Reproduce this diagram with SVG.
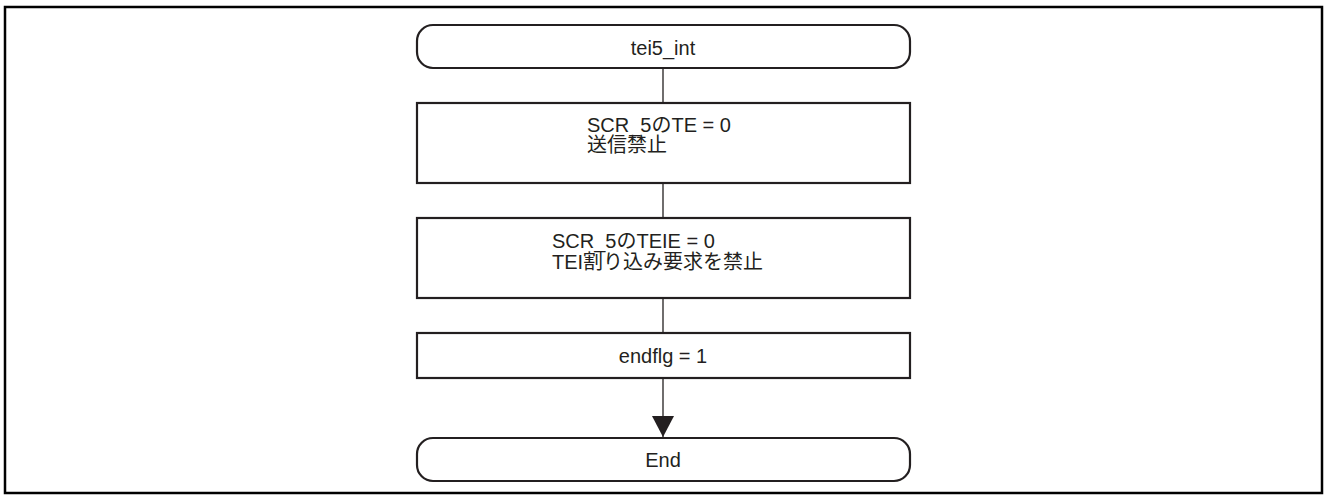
<svg xmlns="http://www.w3.org/2000/svg" width="1324" height="496" viewBox="0 0 1324 496">
<style>
.frame{fill:none;stroke:#000;stroke-width:2.5}
.box{fill:#fff;stroke:#231f20;stroke-width:2.2}
.line{fill:none;stroke:#231f20;stroke-width:1.3}
.t{font-family:"Liberation Sans","Noto Sans CJK JP",Arial,sans-serif;font-size:20px;fill:#231f20}
.c{text-anchor:middle}
</style>
<defs>
<marker id="arr" markerWidth="21" markerHeight="22" refX="21" refY="11" orient="auto" markerUnits="userSpaceOnUse" viewBox="0 0 21 22">
<path d="M0,0 L21,11 L0,22 Z" fill="#231f20"/>
</marker>
</defs>
<rect class="frame" x="5" y="7" width="1317" height="486"/>
<g id="connectors">
<line class="line" x1="663" y1="68" x2="663" y2="103"/>
<line class="line" x1="663" y1="183" x2="663" y2="218"/>
<line class="line" x1="663" y1="298" x2="663" y2="333"/>
<line class="line" x1="663" y1="378" x2="663" y2="437" marker-end="url(#arr)"/>
</g>
<g id="start">
<rect class="box" x="417" y="25" width="493" height="43" rx="16" ry="16"/>
<text class="t c" x="663" y="55">tei5_int</text>
</g>
<g id="step1">
<rect class="box" x="417" y="103" width="493" height="80"/>
<text class="t" x="587" y="132">SCR_5のTE = 0</text>
<text class="t" x="587" y="152">送信禁止</text>
</g>
<g id="step2">
<rect class="box" x="417" y="218" width="493" height="80"/>
<text class="t" x="552" y="248">SCR_5のTEIE = 0</text>
<text class="t" x="552" y="269">TEI割り込み要求を禁止</text>
</g>
<g id="step3">
<rect class="box" x="417" y="333" width="493" height="45"/>
<text class="t c" x="663" y="363">endflg = 1</text>
</g>
<g id="end">
<rect class="box" x="417" y="438" width="493" height="43" rx="16" ry="16"/>
<text class="t c" x="663" y="467">End</text>
</g>
</svg>
